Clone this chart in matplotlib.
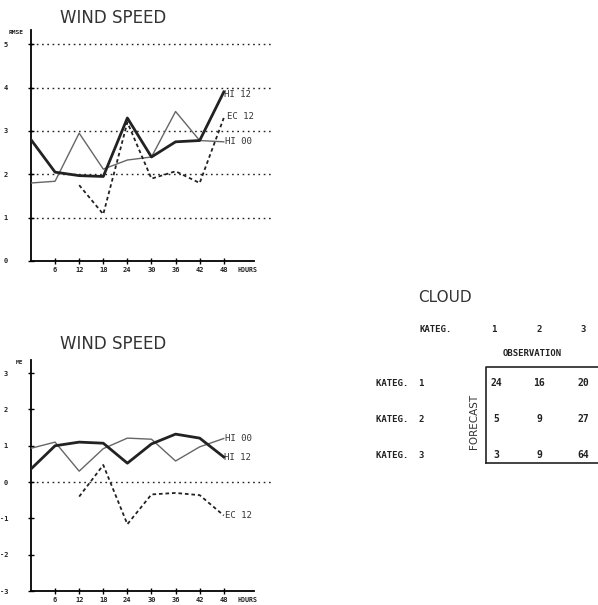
import matplotlib.pyplot as plt

hours = [0, 6, 12, 18, 24, 30, 36, 42, 48]
hours_ec = [12, 18, 24, 30, 36, 42, 48]

# RMSE (top panel)
rmse_hi12 = [2.8, 2.05, 1.97, 1.95, 3.3, 2.4, 2.75, 2.78, 3.9]
rmse_hi00 = [1.8, 1.84, 2.95, 2.12, 2.33, 2.4, 3.45, 2.78, 2.75]
rmse_ec12 = [1.75, 1.08, 3.2, 1.9, 2.07, 1.8, 3.3]

# ME (bottom panel)
me_hi12 = [0.36, 1.0, 1.1, 1.07, 0.52, 1.05, 1.32, 1.21, 0.69]
me_hi00 = [0.93, 1.1, 0.3, 0.92, 1.21, 1.18, 0.58, 0.97, 1.2]
me_ec12 = [-0.4, 0.47, -1.16, -0.34, -0.3, -0.36, -0.92]

# cloud contingency table
kateg = ['1', '2', '3']
cloud_counts = [[24, 16, 20],
                [5, 9, 27],
                [3, 9, 64]]

mono = dict(family='DejaVu Sans Mono', fontweight='bold', color='#222222')
lab = dict(fontsize=6.5, family='DejaVu Sans Mono', color='#333333', va='center')

fig = plt.figure(figsize=(5.98, 6.05), dpi=100)


def wind_panel(rect, ylim, yticks, grid_at, hi12, hi00, ec12, ylabel):
    ax = fig.add_axes(rect)
    ax.set_xlim(0, 60)
    ax.set_ylim(*ylim)
    for s in ['top', 'right']:
        ax.spines[s].set_visible(False)
    ax.spines['bottom'].set_bounds(0, 55.5)
    ax.spines['left'].set_linewidth(1.3)
    ax.spines['bottom'].set_linewidth(1.3)
    for g in grid_at:
        ax.axhline(g, color='#222222', lw=1.0, ls=(0, (1.2, 2.6)), zorder=1)
    ax.set_xticks(hours[1:])
    ax.set_xticklabels([str(h) for h in hours[1:]], fontsize=5, **mono)
    ax.set_yticks(yticks)
    ax.set_yticklabels([str(t) for t in yticks], fontsize=5, **mono)
    ax.tick_params(direction='inout', length=5, width=1)
    ax.tick_params(axis='x', pad=1.5)
    ax.tick_params(axis='y', pad=14)
    ax.plot(hours, hi12, color='#222222', lw=2.0, zorder=4)
    ax.plot(hours, hi00, color='#666666', lw=1.0, zorder=3)
    ax.plot(hours_ec, ec12, color='#222222', lw=1.3, ls=(0, (2, 1.6)), zorder=3)
    ax.text(56.5, ylim[0] - (ylim[1] - ylim[0]) * 0.028, 'HOURS', fontsize=4.8,
            ha='right', va='top', **mono)
    ax.text(-0.03, 1.0, ylabel, transform=ax.transAxes, fontsize=4.5, ha='right',
            va='top', **mono)
    return ax


ax1 = wind_panel([0.0518, 0.5686, 0.403, 0.3818], (0, 5.33), [0, 1, 2, 3, 4, 5],
                 [1, 2, 3, 4, 5], rmse_hi12, rmse_hi00, rmse_ec12, 'RMSE')
ax1.annotate('HI 12', (48, rmse_hi12[-1]), xytext=(0, -2), textcoords='offset points', **lab)
ax1.annotate('EC 12', (48, rmse_ec12[-1]), xytext=(2, 1), textcoords='offset points', **lab)
ax1.annotate('HI 00', (48, rmse_hi00[-1]), xytext=(1, 0), textcoords='offset points', **lab)

ax2 = wind_panel([0.0518, 0.0231, 0.403, 0.3818], (-3, 3.36), [-3, -2, -1, 0, 1, 2, 3],
                 [0], me_hi12, me_hi00, me_ec12, 'ME')
ax2.annotate('HI 00', (48, me_hi00[-1]), xytext=(1, 0), textcoords='offset points', **lab)
ax2.annotate('HI 12', (48, me_hi12[-1]), xytext=(0, 0), textcoords='offset points', **lab)
ax2.annotate('EC 12', (48, me_ec12[-1]), xytext=(1, 0), textcoords='offset points', **lab)

fig.text(60 / 598, 1 - 18 / 605, 'WIND SPEED', fontsize=12, color='#333333', va='center')
fig.text(60 / 598, 1 - 344 / 605, 'WIND SPEED', fontsize=12, color='#333333', va='center')


# cloud table
def px(x, y):
    return x / 598, 1 - y / 605


fig.text(*px(445, 297), 'CLOUD', fontsize=11, color='#333333', ha='center', va='center')
fig.text(*px(420, 330), 'KATEG.', fontsize=6.5, va='center', **mono)
col_x = [494, 539, 583]
row_y = [383, 419, 455]
for cx, k in zip(col_x, kateg):
    fig.text(*px(cx, 330), k, fontsize=6.5, ha='center', va='center', **mono)
fig.text(*px(532, 354), 'OBSERVATION', fontsize=6.5, ha='center', va='center', **mono)
for ry, k in zip(row_y, kateg):
    fig.text(*px(376, ry), 'KATEG.  ' + k, fontsize=6.5, va='center', **mono)
fig.text(*px(474, 421), 'FORECAST', fontsize=7.5, rotation=90, ha='center', va='center',
         color='#333333')
for i, ry in enumerate(row_y):
    for j, cx in enumerate(col_x):
        fig.text(*px(cx + (0 if j else 2), ry), str(cloud_counts[i][j]), fontsize=7,
                 ha='center', va='center', **mono)
fig.add_artist(plt.Line2D([486 / 598, 486 / 598, 1.0],
                          [1 - 463 / 605, 1 - 367 / 605, 1 - 367 / 605],
                          color='#222222', lw=1.2))
fig.add_artist(plt.Line2D([486 / 598, 1.0], [1 - 463 / 605, 1 - 463 / 605],
                          color='#222222', lw=1.2))

fig.savefig('out.png', dpi=100)
